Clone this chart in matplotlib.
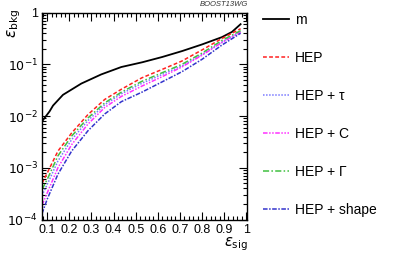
import numpy as np
import matplotlib
matplotlib.use("Agg")
import matplotlib.pyplot as plt
from matplotlib.ticker import FixedLocator, FuncFormatter, LogLocator, NullFormatter

plt.rcParams['font.family'] = ['Liberation Sans', 'DejaVu Sans']

# signal efficiency grid
m_sig = [0.076, 0.11, 0.126, 0.171, 0.254, 0.344, 0.435, 0.53, 0.62, 0.71, 0.80, 0.89, 0.936, 0.975]
m_bkg = [0.0079, 0.0123, 0.016, 0.0258, 0.0426, 0.064, 0.089, 0.11, 0.139, 0.181, 0.243, 0.336, 0.425, 0.6]

eff_sig = [0.076, 0.1, 0.148, 0.21, 0.284, 0.36, 0.435, 0.528, 0.62, 0.709, 0.80, 0.89, 0.975]
hep = [0.0005, 0.0008, 0.0021, 0.0047, 0.0107, 0.021, 0.033, 0.055, 0.08, 0.116, 0.19, 0.316, 0.49]
hep_tau = [0.00029, 0.00048, 0.00135, 0.0035, 0.0082, 0.0166, 0.027, 0.043, 0.064, 0.093, 0.155, 0.27, 0.43]
hep_c = [0.00019, 0.00033, 0.001, 0.0028, 0.0070, 0.0147, 0.024, 0.038, 0.058, 0.089, 0.15, 0.265, 0.42]
hep_gamma = [0.00038, 0.0006, 0.0017, 0.0041, 0.0092, 0.018, 0.029, 0.047, 0.069, 0.10, 0.165, 0.29, 0.45]
hep_shape = [0.00013, 0.00025, 0.00075, 0.0021, 0.0052, 0.011, 0.019, 0.029, 0.046, 0.072, 0.125, 0.236, 0.40]

x_ticks = [0.1, 0.2, 0.3, 0.4, 0.5, 0.6, 0.7, 0.8, 0.9, 1.0]
x_labels = ["0.1", "0.2", "0.3", "0.4", "0.5", "0.6", "0.7", "0.8", "0.9", "1"]

fig = plt.figure(figsize=(3.99, 2.54), dpi=100)
ax = fig.add_axes([42/399, 1 - 219.5/254, 205/399, 206.8/254])

lw = 1.1
ax.plot(m_sig, m_bkg, color='black', lw=1.3, label='m')
ax.plot(eff_sig, hep, color='#ff2020', lw=lw, dashes=(2.5, 1.5), label='HEP')
ax.plot(eff_sig, hep_tau, color='#7a7aff', lw=lw, dashes=(1, 1), label='HEP + \u03c4')
ax.plot(eff_sig, hep_c, color='#ff30ff', lw=lw, dashes=(3, 1, 1, 1, 1, 1), label='HEP + C')
ax.plot(eff_sig, hep_gamma, color='#40c040', lw=lw, dashes=(4, 1.5, 1, 1.5), label='HEP + \u0393')
ax.plot(eff_sig, hep_shape, color='#3333cc', lw=lw, dashes=(3, 1, 1, 1), label='HEP + shape')

ax.set_yscale('log')
ax.set_xlim(0.076, 1.004)
ax.set_ylim(1e-4, 1)

ax.xaxis.set_major_locator(FixedLocator(x_ticks))
ax.set_xticklabels(x_labels)
ax.xaxis.set_minor_locator(FixedLocator(np.arange(0.08, 1.0, 0.02)))

def yfmt(v, pos):
    e = int(round(np.log10(v)))
    if e == 0:
        return "1"
    return r"$10^{%d}$" % e

ax.yaxis.set_major_locator(LogLocator(base=10, numticks=10))
ax.yaxis.set_major_formatter(FuncFormatter(yfmt))
ax.yaxis.set_minor_locator(LogLocator(base=10, subs=np.arange(2, 10), numticks=20))
ax.yaxis.set_minor_formatter(NullFormatter())

ax.tick_params(which='both', direction='in', top=True, right=True, labelsize=9, width=0.8)
ax.tick_params(which='major', length=6, pad=3)
ax.tick_params(which='minor', length=3)
for s in ax.spines.values():
    s.set_linewidth(1.0)

fig.text(14/399, 1 - 9/254, r"$\varepsilon_{\rm bkg}$", rotation=90, ha='center', va='top', fontsize=11)
fig.text(248/399, 1 - 235/254, r"$\varepsilon_{\rm sig}$", ha='right', va='top', fontsize=10.5)
fig.text(248/399, 1 - 5/254, "BOOST13WG", ha='right', va='center', fontsize=5.5, style='italic', color='#333333')

fig.legend(loc='upper left', bbox_to_anchor=(263/399, 1 - 12.5/254), frameon=False,
           fontsize=10, handlelength=1.85, handletextpad=0.45, labelspacing=1.73,
           borderpad=0, borderaxespad=0)

fig.savefig('out.png', dpi=100)
